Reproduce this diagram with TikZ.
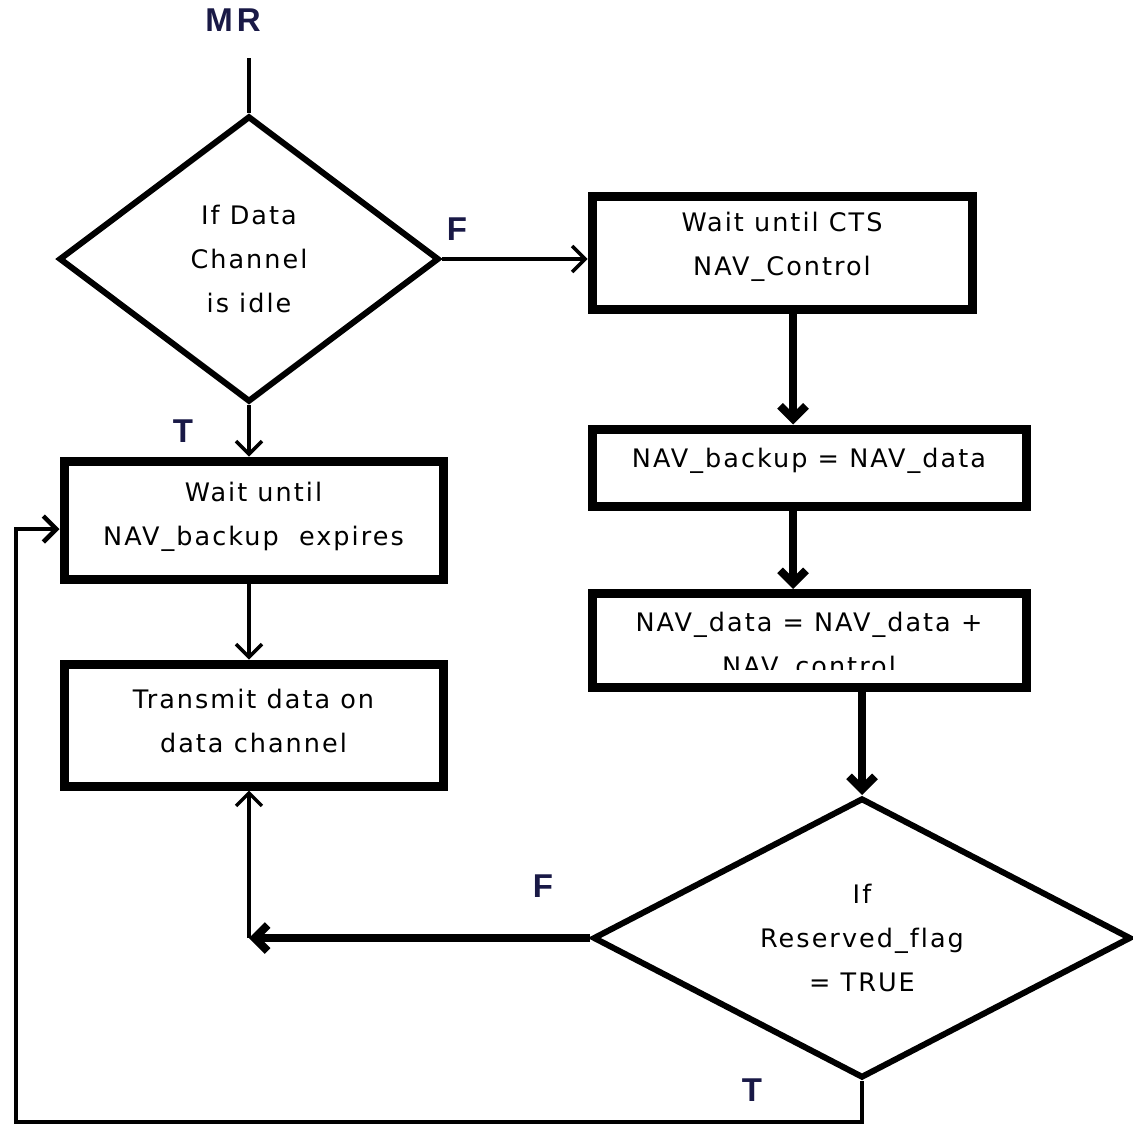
\documentclass[tikz,border=0pt]{standalone}
\usepackage{fontspec}
\setmainfont{DejaVu Sans}[LetterSpace=8,Ligatures=NoCommon]
\newfontfamily\lblfont{Liberation Sans}[BoldFont={Liberation Sans Bold}]
\usetikzlibrary{shapes.geometric,arrows.meta}
\definecolor{lblcol}{RGB}{25,25,70}
\begin{document}
\begin{tikzpicture}[x=1pt,y=-1pt,
  txt/.style={align=center,font=\fontsize{25.5}{44}\selectfont,inner sep=0pt},
  lbl/.style={font=\lblfont\bfseries\fontsize{33}{33}\selectfont,text=lblcol,inner sep=0pt},
  box/.style={draw,line width=9pt,rectangle,inner sep=0pt},
  dia/.style={draw,line width=6pt,diamond,inner sep=0pt,align=center,font=\fontsize{25.5}{44}\selectfont},
  arr/.style={-{Straight Barb[length=13pt,width=26pt]}},
  thinc/.style={line width=3.5pt},
  thickc/.style={line width=8pt},
  loopc/.style={line width=4.5pt}]
\fill[white] (0,0) rectangle (1133,1127);
\useasboundingbox (0,0) rectangle (1133,1127);

% decision 1
\node[dia,minimum width=380pt,minimum height=286pt,aspect=1.33] (d1) at (249,259) {If Data\\Channel\\is idle};
% boxes
\node[box,minimum width=380pt,minimum height=113pt] (b1) at (782,252.5) {};
\node[txt] (t1) at (782,247) {Wait until CTS\\NAV\_Control};
\node[box,minimum width=434pt,minimum height=77pt] (b2) at (809,467.5) {};
\node[txt] (t2) at (809,461) {NAV\_backup = NAV\_data};
\node[box,minimum width=434pt,minimum height=94pt] (b3) at (809,640.5) {};
\begin{scope}
  \clip (592,597) rectangle (1026,669);
  \node[txt] (t3) at (809,647) {NAV\_data = NAV\_data +\\NAV\_control};
\end{scope}
\node[box,minimum width=379pt,minimum height=118pt] (bw) at (253.5,520) {};
\node[txt] (tw) at (253.5,517) {Wait until\\NAV\_backup\ \ expires};
\node[box,minimum width=379pt,minimum height=122pt] (bt) at (253.5,725) {};
\node[txt] (tt) at (253.5,721) {Transmit data on\\data channel};
% decision 2
\node[dia,minimum width=538pt,minimum height=280pt,aspect=1.92] (d2) at (862,938) {If\\Reserved\_flag\\= TRUE};

% labels
\node[lbl] (mr) at (233,20) {M\kern4pt R};
\node[lbl] (f1) at (457,229) {F};
\node[lbl] (t1l) at (183,431) {T};
\node[lbl] (f2) at (543,886) {F};
\node[lbl] (t2l) at (752,1090) {T};

% coordinates
\coordinate (mrend) at (249,58);
\coordinate (fc) at (249,938);
\coordinate (lc1) at (16,1122);
\coordinate (lc2) at (16,529);
\coordinate (b1a) at (793,309);
\coordinate (b2a) at (793,506);

% connectors
\draw[thinc] (mrend) -- (d1.north);
\draw[thinc,arr] (d1.east) -- (b1.west |- d1.east);
\draw[thinc,arr] (d1.south) -- (d1.south |- bw.north);
\draw[thinc,arr] (bw.south -| d1.south) -- (bt.north -| d1.south);
\draw[thickc,arr] (b1a) -- (b1a |- b2.north);
\draw[thickc,arr] (b2a) -- (b2a |- b3.north);
\draw[thickc,arr] (b3.south -| d2.north) -- (d2.north);
\draw[thickc,arr] (d2.west) -- (fc);
\draw[thinc,arr] (fc) -- (fc |- bt.south);
\draw[loopc,arr,line join=miter] (d2.south) -- (d2.south |- lc1) -- (lc1) -- (lc2) -- (bw.west |- lc2);
\end{tikzpicture}
\end{document}
